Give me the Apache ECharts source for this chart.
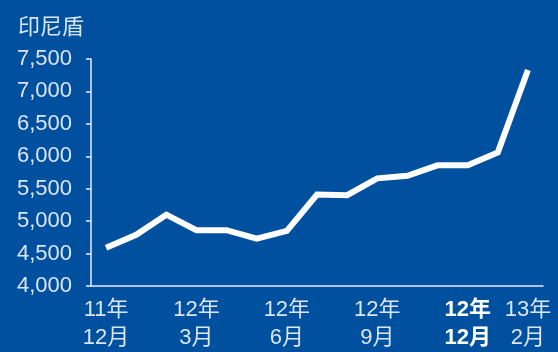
<!DOCTYPE html>
<html>
<head>
<meta charset="utf-8">
<script src="https://cdn.jsdelivr.net/npm/echarts@6/dist/echarts.min.js"></script>
<style>
  html, body { margin: 0; padding: 0; background: #0050A0; }
  #chart { width: 558px; height: 352px; }
</style>
</head>
<body>
<div id="chart"></div>
<script>
// Monthly rupiah level, Dec 2011 – Feb 2013
const months = ['11年\n12月', '12年\n1月', '12年\n2月', '12年\n3月', '12年\n4月', '12年\n5月',
                '12年\n6月', '12年\n7月', '12年\n8月', '12年\n9月', '12年\n10月', '12年\n11月',
                '12年\n12月', '13年\n1月', '13年\n2月'];
const rupiah = [4590, 4790, 5100, 4860, 4860, 4730, 4850, 5410, 5400, 5660, 5700, 5860, 5860, 6060, 7330];
const shownLabels = [0, 3, 6, 9, 12, 14];
const boldLabel = 12;
const yTicks = [4000, 4500, 5000, 5500, 6000, 6500, 7000, 7500];

const textColor = '#DCE5F2';
const fontFamily = '"Liberation Sans", "Noto Sans CJK SC", sans-serif';

const chart = echarts.init(document.getElementById('chart'));
chart.setOption({
  backgroundColor: '#0050A0',
  animation: false,
  title: {
    text: '印尼盾',
    left: 13, top: 12,
    textStyle: { color: textColor, fontSize: 22, fontWeight: 'normal', fontFamily }
  },
  grid: { left: 91, right: 15, top: 59, bottom: 64, containLabel: false },
  xAxis: {
    type: 'category',
    data: months,
    boundaryGap: true,
    axisLine: { lineStyle: { color: '#E6ECF5', width: 1.5 } },
    axisTick: { show: false },
    axisLabel: {
      interval: (i) => shownLabels.includes(i),
      margin: 10,
      color: textColor,
      fontSize: 22,
      lineHeight: 28,
      fontFamily,
      formatter: (v, i) => i === boldLabel ? '{b|' + v.replace('\n', '}\n{b|') + '}' : v,
      rich: { b: { fontWeight: 'bold', color: '#FFFFFF', fontSize: 22, lineHeight: 28, fontFamily } }
    },
    splitLine: { show: false }
  },
  yAxis: {
    type: 'value',
    min: yTicks[0],
    max: yTicks[yTicks.length - 1],
    interval: 500,
    axisLine: { show: true, lineStyle: { color: '#E6ECF5', width: 1.5 } },
    axisTick: { show: true, length: 5, lineStyle: { color: '#E6ECF5', width: 1.5 } },
    axisLabel: {
      margin: 19,
      color: textColor,
      fontSize: 22,
      fontFamily,
      formatter: (v) => v.toLocaleString('en-US')
    },
    splitLine: { show: false }
  },
  series: [{
    type: 'line',
    data: rupiah,
    symbol: 'none',
    lineStyle: { color: '#FFFFFF', width: 6, cap: 'butt', join: 'miter' }
  }]
});
</script>
</body>
</html>
